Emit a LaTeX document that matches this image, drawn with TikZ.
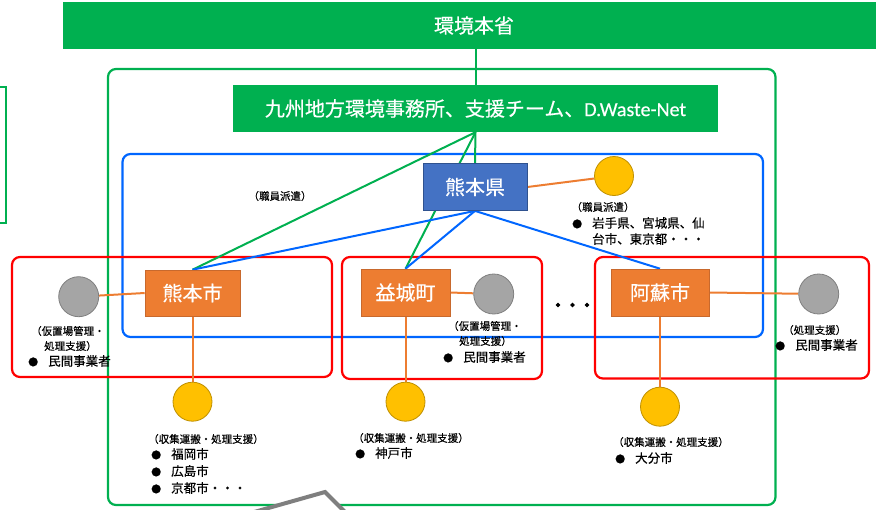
\documentclass[tikz,border=0pt]{standalone}
\usepackage{fontspec}
\setmainfont{Noto Sans CJK JP}[FakeBold=0.35]
\newfontfamily\latfont{Carlito}[FakeBold=0.35]
\newfontfamily\dotfont{Noto Sans CJK JP}[FakeBold=9]
\definecolor{grn}{RGB}{0,176,80}
\definecolor{blu}{RGB}{0,102,255}
\definecolor{boxblue}{RGB}{68,114,196}
\definecolor{boxblueb}{RGB}{47,82,143}
\definecolor{org}{RGB}{237,125,49}
\definecolor{orgb}{RGB}{200,105,45}
\definecolor{ylw}{RGB}{255,192,0}
\definecolor{ylwb}{RGB}{191,144,0}
\definecolor{gry}{RGB}{165,165,165}
\definecolor{gryb}{RGB}{127,127,127}
\definecolor{redf}{RGB}{255,0,0}
\pgfdeclarelayer{bg}
\pgfsetlayers{bg,main}
\newcommand{\bl}{\makebox[20pt][l]{\fontsize{10}{10}\selectfont ●}}
\tikzset{
  banner/.style={fill=grn, text=white, inner sep=0pt, font=\fontsize{20}{24}\selectfont},
  orgbox/.style={fill=org, draw=orgb, line width=0.6pt, text=white, inner sep=0pt, font=\fontsize{20}{24}\selectfont},
  kenbox/.style={fill=boxblue, draw=boxblueb, line width=0.8pt, text=white, inner sep=0pt, font=\fontsize{20}{24}\selectfont},
  ycirc/.style={circle, fill=ylw, draw=ylwb, line width=0.8pt, minimum size=39pt, inner sep=0pt},
  gcirc/.style={circle, fill=gry, draw=gryb, line width=0.8pt, minimum size=40pt, inner sep=0pt},
  small/.style={anchor=west, inner sep=0pt, font=\fontsize{10.5}{12}\selectfont},
  item/.style={anchor=west, inner sep=0pt, font=\fontsize{12.5}{14}\selectfont},
  grnline/.style={draw=grn, line width=2pt},
  bluline/.style={draw=blu, line width=2pt},
  orgline/.style={draw=org, line width=2pt},
  frame/.style={line width=2.2pt, rounded corners=8pt}
}
\begin{document}
\begin{tikzpicture}[x=1pt,y=-1pt]
\useasboundingbox (0,0) rectangle (876,509);
\clip (0,0) rectangle (876,509);

% main nodes
\node[banner, minimum width=822pt, minimum height=47pt] (moe) at (474,25.5) {環境本省};
\node[banner, minimum width=485pt, minimum height=47pt] (kyushu) at (475.5,108.5) {九州地方環境事務所、支援チーム、{\latfont D.Waste-Net}};
\node[kenbox, minimum width=104pt, minimum height=47pt] (ken) at (475,187) {熊本県};
\node[orgbox, minimum width=95pt, minimum height=46pt] (kshi) at (192.5,293) {熊本市};
\node[orgbox, minimum width=89pt, minimum height=47pt] (mashiki) at (405.5,292.5) {益城町};
\node[orgbox, minimum width=98pt, minimum height=47pt] (aso) at (660,292.5) {阿蘇市};

\node[ycirc] (ykenc) at (614,176) {};
\node[gcirc] (g1) at (78.7,296.7) {};
\node[gcirc] (g2) at (493.7,294) {};
\node[gcirc] (g3) at (818.7,294) {};
\node[ycirc] (y1) at (192.5,401.7) {};
\node[ycirc] (y2) at (405.5,401.7) {};
\node[ycirc] (y3) at (660,406.7) {};

\begin{pgfonlayer}{bg}
  % frames
  \draw[grn, frame] (108,69) rectangle (775.5,505);
  \draw[grn, line width=2.2pt] (-10,87) rectangle (6,223);
  \draw[blu, frame] (122.5,154) rectangle (763,337);
  \draw[redf, frame] (12,257) rectangle (332,377);
  \draw[redf, frame] (342,257) rectangle (542,379);
  \draw[redf, frame] (595,257) rectangle (869,378.5);
  % connectors
  \draw[grnline] (moe.south -| kyushu.north) -- (kyushu.north);
  \draw[grnline] (kyushu.south) -- (ken.north);
  \draw[grnline] (kyushu.south) -- (kshi.north);
  \draw[grnline] (kyushu.south) -- (mashiki.north);
  \draw[bluline] (ken.south) -- (kshi.north);
  \draw[bluline] (ken.south) -- (mashiki.north);
  \draw[bluline] (ken.south) -- (aso.north);
  \draw[orgline] (ken.east) -- (ykenc);
  \draw[orgline] (kshi.west) -- (g1);
  \draw[orgline] (mashiki.east) -- (g2);
  \draw[orgline] (aso.east) -- (g3);
  \draw[orgline] (kshi.south) -- (y1);
  \draw[orgline] (mashiki.south) -- (y2);
  \draw[orgline] (aso.south) -- (y3);
\end{pgfonlayer}

% labels
\node[small, anchor=center] (lbl1) at (280,196) {（職員派遣）};
\node[small, anchor=center] (lbl2) at (603,207) {（職員派遣）};
\node[item] (lbl3) at (572,223) {\bl 岩手県、宮城県、仙};
\node[item] (lbl4) at (592,239) {台市、東京都・・・};

\node[small] (g1a) at (31,331) {（仮置場管理・};
\node[small] (g1b) at (44,346) {処理支援）};
\node[item] (g1c) at (28,361) {\bl 民間事業者};

\node[small] (g2a) at (448,326) {（仮置場管理・};
\node[small] (g2b) at (459,341) {処理支援）};
\node[item] (g2c) at (443,357) {\bl 民間事業者};

\node[small] (g3a) at (783,330) {（処理支援）};
\node[item] (g3c) at (775,345) {\bl 民間事業者};

\node[small] (y1a) at (148,439) {（収集運搬・処理支援）};
\node[item] (y1b) at (151,454) {\bl 福岡市};
\node[item] (y1c) at (151,471) {\bl 広島市};
\node[item] (y1d) at (151,488) {\bl 京都市・・・};

\node[small] (y2a) at (353,438) {（収集運搬・処理支援）};
\node[item] (y2b) at (355,453) {\bl 神戸市};

\node[small] (y3a) at (613,442) {（収集運搬・処理支援）};
\node[item] (y3b) at (615,458) {\bl 大分市};

\node[inner sep=0pt, font=\dotfont\fontsize{14.5}{15}\selectfont] (dots) at (572.5,307) {・・・};

% partial callout at bottom
\draw[gryb, line width=4pt, fill=white, line join=miter] (233,518) -- (325,492) -- (351,518);
\end{tikzpicture}
\end{document}
